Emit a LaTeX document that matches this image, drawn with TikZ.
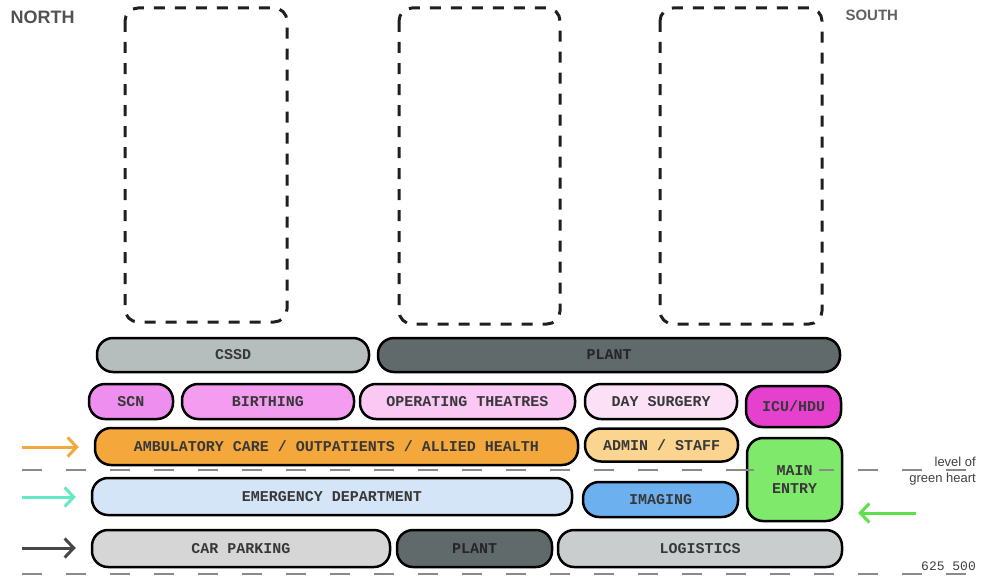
\documentclass[tikz,border=0pt]{standalone}
\usepackage{fontspec}
\setmainfont{Liberation Sans}
\setmonofont{Liberation Mono}
\usetikzlibrary{arrows.meta}
\definecolor{CssdClr}{HTML}{B6BDBD}
\definecolor{PlantClr}{HTML}{606A6A}
\definecolor{ScnClr}{HTML}{EE8EEE}
\definecolor{BirthClr}{HTML}{F39CF0}
\definecolor{TheatreClr}{HTML}{FAC8F3}
\definecolor{DaySurgClr}{HTML}{FCE0F6}
\definecolor{IcuClr}{HTML}{E640CF}
\definecolor{AmbClr}{HTML}{F4A83C}
\definecolor{AdminClr}{HTML}{FBD58F}
\definecolor{EntryClr}{HTML}{7FE96B}
\definecolor{EmergClr}{HTML}{D4E5F8}
\definecolor{ImagClr}{HTML}{6CB0EF}
\definecolor{CarClr}{HTML}{D6D6D6}
\definecolor{LogClr}{HTML}{C9CDCD}
\definecolor{TealClr}{HTML}{64E8C6}
\definecolor{GreenClr}{HTML}{5DE04A}
\definecolor{LevelClr}{HTML}{8A8A8A}

\begin{document}
\begin{tikzpicture}[x=1pt,y=-1pt,
  zone/.style={draw=black,line width=2.5pt,rounded corners=16pt,inner sep=0pt,
    text=black!78,font=\ttfamily\bfseries\fontsize{15}{18}\selectfont},
  tower/.style={draw=black!88,line width=3pt,rounded corners=13pt,
    dash pattern=on 11pt off 10pt},
  level/.style={draw=LevelClr,line width=2pt,dash pattern=on 20pt off 24pt},
  flow/.style={line width=3pt,-{Straight Barb[length=9pt,width=19pt,line width=3pt]},shorten >=15pt}]
\useasboundingbox (0,0) rectangle (981,578);

% towers above the podium
\draw[tower] (125,8) rectangle (287,322);
\draw[tower] (399,8) rectangle (560,324);
\draw[tower] (660,8) rectangle (822,324);

\node[anchor=west,text=black!68,font=\bfseries\fontsize{18}{18}\selectfont] (north) at (7,17) {NORTH};
\node[anchor=west,text=black!62,font=\bfseries\fontsize{15}{15}\selectfont] (south) at (842,15) {SOUTH};

% levels
\coordinate (heartW) at (22,470);
\coordinate (heartE) at (978,470);
\coordinate (groundW) at (22,574);
\coordinate (groundE) at (978,574);
\draw[level] (heartW) -- (heartE);
\draw[level] (groundW) -- (groundE);
\node[anchor=south east,inner sep=1pt,text=black!75,font=\fontsize{13}{13}\selectfont] (lvl) at (977,468) {level of};
\node[anchor=north east,inner sep=1pt,text=black!75,font=\fontsize{13}{13}\selectfont] (heart) at (977,472) {green heart};
\node[anchor=south east,inner sep=1pt,text=black!75,font=\ttfamily\fontsize{13}{13}\selectfont] (rl) at (977,572) {625 500};

% podium levels
\node[zone,fill=CssdClr,minimum width=272pt,minimum height=34pt] (cssd) at (233,355) {CSSD};
\node[zone,fill=PlantClr,text=black!85,minimum width=462pt,minimum height=34pt] (plantup) at (609,355) {PLANT};

\node[zone,fill=ScnClr,minimum width=84pt,minimum height=35pt] (scn) at (131,401.5) {SCN};
\node[zone,fill=BirthClr,minimum width=172pt,minimum height=35pt] (birth) at (268,401.5) {BIRTHING};
\node[zone,fill=TheatreClr,minimum width=215pt,minimum height=35pt] (theatre) at (467.5,401.5) {OPERATING THEATRES};
\node[zone,fill=DaySurgClr,minimum width=152pt,minimum height=35pt] (daysurg) at (661,401.5) {DAY SURGERY};
\node[zone,fill=IcuClr,minimum width=95pt,minimum height=41pt] (icu) at (793.5,406.5) {ICU/HDU};

\node[zone,fill=AmbClr,minimum width=483pt,minimum height=37pt] (amb) at (336.5,446.5) {AMBULATORY CARE / OUTPATIENTS / ALLIED HEALTH};
\node[zone,fill=AdminClr,minimum width=153pt,minimum height=33pt] (admin) at (661.5,445) {ADMIN / STAFF};
\node[zone,fill=EntryClr,minimum width=95pt,minimum height=83pt,align=center] (entry) at (794.5,479.5) {MAIN\\ENTRY};
\draw[level,dash pattern=on 15pt off 65pt] ([xshift=-7pt]entry.west |- heartW) -- (entry.east |- heartE);

\node[zone,fill=EmergClr,minimum width=480pt,minimum height=37pt] (emerg) at (332,496.5) {EMERGENCY DEPARTMENT};
\node[zone,fill=ImagClr,minimum width=155pt,minimum height=35pt] (imag) at (660.5,499.5) {IMAGING};

\node[zone,fill=CarClr,minimum width=298pt,minimum height=37pt] (car) at (241,548.5) {CAR PARKING};
\node[zone,fill=PlantClr,text=black!85,minimum width=155pt,minimum height=37pt] (plantlow) at (474.5,548.5) {PLANT};
\node[zone,fill=LogClr,minimum width=284pt,minimum height=37pt] (logis) at (700,548.5) {LOGISTICS};

% entries
\coordinate (ambIn) at (22,447);
\coordinate (emergIn) at (22,497);
\coordinate (carIn) at (22,548);
\coordinate (entryIn) at (916,513);
\draw[flow,AmbClr] (ambIn) -- (amb.west |- ambIn);
\draw[flow,TealClr] (emergIn) -- (emerg.west |- emergIn);
\draw[flow,black!72] (carIn) -- (car.west |- carIn);
\draw[flow,GreenClr] (entryIn) -- (entry.east |- entryIn);

\end{tikzpicture}
\end{document}
